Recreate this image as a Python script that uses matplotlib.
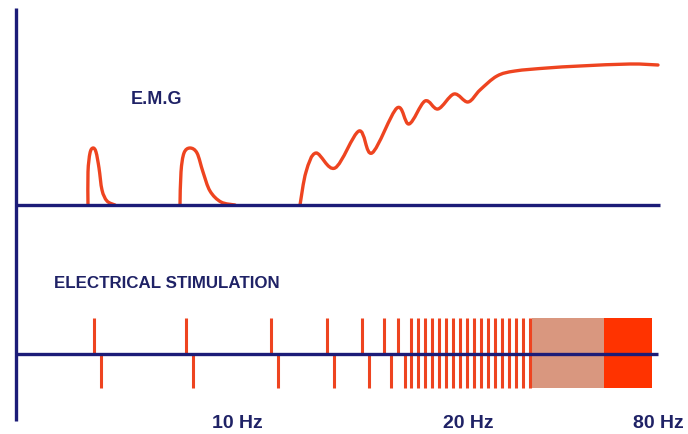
import matplotlib.pyplot as plt
import numpy as np
from matplotlib.path import Path
from matplotlib.patches import PathPatch, Rectangle

# Drawing is laid out on a 688 x 434 canvas (y grows downwards)
navy = "#1c1c78"
text_navy = "#1f2266"
red = "#ee4420"
pale = "#d9977f"
bright = "#ff3300"

# E.M.G traces (x, y)
emg_spike1_x = [88, 88, 90, 93, 96, 99, 102, 107, 115]
emg_spike1_y = [205, 172, 153, 148, 152, 168, 190, 201, 205]
emg_spike2_x = [180, 181, 184, 190, 197, 203, 210, 221, 235]
emg_spike2_y = [205, 172, 153, 148, 153, 172, 191, 202, 205]
emg_tetanus_x = [300, 306, 316, 335, 359, 372, 397, 409, 425, 438, 454, 468,
                 480, 497, 515, 547, 580, 630, 658]
emg_tetanus_y = [205, 172, 153, 168, 131, 153, 108, 124, 101, 109, 94, 102,
                 90, 76, 71, 68, 66, 64, 65]

# stimulation pulses: up tick followed by a down tick
pulse_up_x = [94, 186, 271, 327, 362, 384, 398]
pulse_down_x = [101, 193, 278, 334, 369, 391, 405]
# 20 Hz train (full height bars)
train_x = [411, 418, 425, 432, 439, 446, 453, 460, 467, 474, 481, 488, 495,
           502, 509, 516, 523, 530]
# fused zones
pale_zone = (532, 604)
bright_zone = (604, 652)

freq_labels = ["10 Hz", "20 Hz", "80 Hz"]
freq_label_x = [212, 443, 633]


def smooth_path(xs, ys):
    pts = np.column_stack([xs, ys]).astype(float)
    ext = np.vstack([pts[0], pts, pts[-1]])
    verts = [pts[0]]
    codes = [Path.MOVETO]
    for i in range(1, len(ext) - 2):
        p0, p1, p2, p3 = ext[i - 1], ext[i], ext[i + 1], ext[i + 2]
        verts += [p1 + (p2 - p0) / 6, p2 - (p3 - p1) / 6, p2]
        codes += [Path.CURVE4] * 3
    return Path(verts, codes)


fig = plt.figure(figsize=(6.88, 4.34), dpi=100)
ax = fig.add_axes([0, 0, 1, 1])
ax.set_xlim(0, 688)
ax.set_ylim(434, 0)
ax.axis("off")

# stimulation
ax.vlines(pulse_up_x, 318, 354, color=red, lw=2.2)
ax.vlines(pulse_down_x, 354, 388, color=red, lw=2.2)
ax.vlines(train_x, 318, 388, color=red, lw=2.2)
ax.add_patch(Rectangle((pale_zone[0], 318), pale_zone[1] - pale_zone[0], 70,
                       color=pale, lw=0))
ax.add_patch(Rectangle((bright_zone[0], 318), bright_zone[1] - bright_zone[0], 70,
                       color=bright, lw=0))

# axes
ax.plot([16, 16], [8, 421], color=navy, lw=2.4, solid_capstyle="butt")
ax.plot([16, 660], [205, 205], color=navy, lw=2.4, solid_capstyle="butt")
ax.plot([16, 658], [354, 354], color=navy, lw=2.4, solid_capstyle="butt")

# emg
for xs, ys in [(emg_spike1_x, emg_spike1_y), (emg_spike2_x, emg_spike2_y),
               (emg_tetanus_x, emg_tetanus_y)]:
    ax.add_patch(PathPatch(smooth_path(xs, ys), fill=False, edgecolor=red,
                           lw=2.4, capstyle="round", joinstyle="round"))

font = ["Liberation Sans", "DejaVu Sans"]
ax.text(131, 99, "E.M.G", color=text_navy, fontsize=13, fontweight="bold",
        family=font, va="center", ha="left")
ax.text(54, 283, "ELECTRICAL STIMULATION", color=text_navy, fontsize=12.2,
        fontweight="bold", family=font, va="center", ha="left")
for lab, x in zip(freq_labels, freq_label_x):
    ax.text(x, 424, lab, color=text_navy, fontsize=14, fontweight="bold",
            family=font, va="center", ha="left")

plt.savefig("out.png", dpi=100)
